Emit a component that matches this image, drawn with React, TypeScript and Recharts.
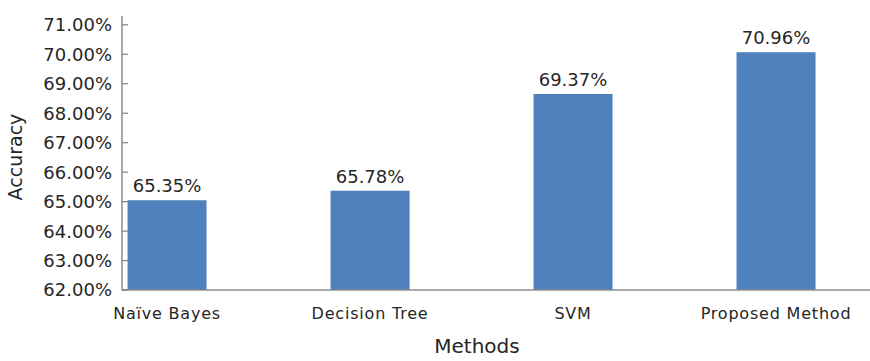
import React from 'react';
import { BarChart, Bar, XAxis, YAxis, LabelList } from 'recharts';

const methods = ['Naïve Bayes', 'Decision Tree', 'SVM', 'Proposed Method'];
// bar heights as drawn in the picture
const accuracy = [65.05, 65.37, 68.65, 70.07];
// values printed above the bars
const accuracyLabels = ['65.35%', '65.78%', '69.37%', '70.96%'];
const yTicks = [62, 63, 64, 65, 66, 67, 68, 69, 70, 71];

const FONT = '"DejaVu Sans", sans-serif';
const TEXT = '#262626';

const chartData = methods.map((name, i) => ({
    idx: i,
    name,
    value: accuracy[i],
    label: accuracyLabels[i],
}));

// recharts passes x = axis - tickSize(6) - tickMargin(2)
const YTick = ({ x, y, payload }: any) => (
    <g>
        <line x1={x + 8} y1={y} x2={x + 14} y2={y} stroke="#7f7f7f" strokeWidth={1.2} />
        <text x={x - 2} y={y} dy="0.36em" textAnchor="end" fontFamily={FONT} fontSize={18} fill={TEXT}>
            {payload.value.toFixed(2)}%
        </text>
    </g>
);

const XTick = ({ x, y, payload }: any) => (
    <text x={x} y={y + 21} textAnchor="middle" fontFamily={FONT} fontSize={16} letterSpacing={0.8} fill={TEXT}>
        {methods[payload.value]}
    </text>
);

const App = () => {
    return (
        <div style={{ position: 'absolute', left: 0, top: 0 }}>
            <BarChart width={870} height={361} data={chartData}
                margin={{ top: 16, right: 0, left: 0, bottom: 0 }}>
                <XAxis
                    dataKey="idx"
                    type="number"
                    domain={[-0.222, 3.463]}
                    ticks={[0, 1, 2, 3]}
                    allowDataOverflow
                    height={71}
                    tickLine={false}
                    axisLine={{ stroke: '#8c8c8c', strokeWidth: 1.5 }}
                    tick={<XTick />}
                    label={({ viewBox }: any) => (
                        <text x={477} y={viewBox.y + 63} textAnchor="middle" fontFamily={FONT} fontSize={20} fill={TEXT}>
                            Methods
                        </text>
                    )}
                />
                <YAxis
                    type="number"
                    domain={[62, 71.3]}
                    ticks={yTicks}
                    width={122}
                    tickLine={false}
                    axisLine={{ stroke: '#8c8c8c', strokeWidth: 1.5 }}
                    tick={<YTick />}
                    label={() => (
                        <text x={0} y={0} transform="translate(22,157) rotate(-90)" textAnchor="middle" fontFamily={FONT} fontSize={19} fill={TEXT}>
                            Accuracy
                        </text>
                    )}
                />
                <Bar dataKey="value" fill="#4f81bd" barSize={79} isAnimationActive={false}>
                    <LabelList dataKey="label" position="top" offset={8} fontFamily={FONT} fontSize={18} fill={TEXT} />
                </Bar>
            </BarChart>
        </div>
    );
};

export default App;
